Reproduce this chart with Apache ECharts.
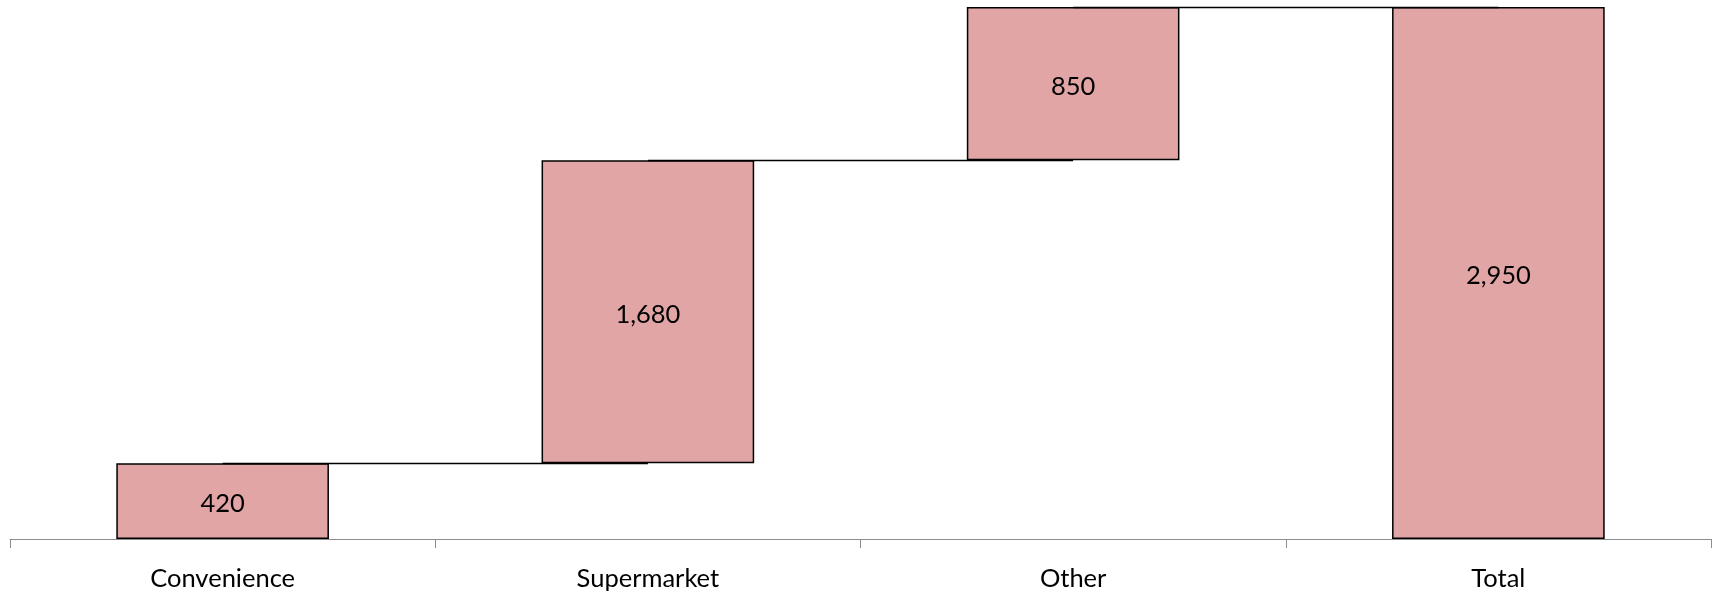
<!DOCTYPE html>
<html>
<head>
<meta charset="utf-8">
<script src="https://cdn.jsdelivr.net/npm/echarts@6/dist/echarts.min.js"></script>
<style>html,body{margin:0;padding:0;background:#fff}#c{width:1718px;height:592px}</style>
</head>
<body>
<div id="c"></div>
<script>
const categories = ['Convenience', 'Supermarket', 'Other', 'Total'];
const values = [420, 1680, 850, 2950];
const isTotal = [false, false, false, true];

// derived: invisible bases and cumulative levels for connectors
const bases = [];
const levels = [];
let run = 0;
values.forEach((v, i) => {
  if (isTotal[i]) { bases.push(0); run = v; }
  else { bases.push(run); run += v; }
  levels.push(run);
});
const connectors = [];
for (let i = 0; i < categories.length - 1; i++) connectors.push([i, levels[i]]);

const font = 'Lato';
const chart = echarts.init(document.getElementById('c'));
chart.setOption({
  animation: false,
  grid: { left: 10, right: 7, top: 7, bottom: 52 },
  xAxis: {
    type: 'category',
    data: categories,
    axisLine: { lineStyle: { color: '#8c8c8c', width: 1 } },
    axisTick: { show: true, length: 9, lineStyle: { color: '#8c8c8c' } },
    axisLabel: { color: '#000', fontFamily: font, fontSize: 25.5, margin: 27 }
  },
  yAxis: { type: 'value', min: 0, max: 2950, show: false, splitLine: { show: false } },
  series: [
    {
      type: 'bar', stack: 'w', data: bases, barWidth: '50%',
      itemStyle: { color: 'transparent' }, silent: true
    },
    {
      type: 'bar', stack: 'w', data: values, barWidth: '50%',
      itemStyle: { color: '#E0A5A4', borderColor: '#000', borderWidth: 1.5 },
      label: {
        show: true, position: 'inside', color: '#000', fontFamily: font, fontSize: 25.5,
        offset: [0, 3],
        formatter: p => p.value.toLocaleString('en-US')
      },
      z: 2
    },
    {
      type: 'custom', data: connectors, z: 3,
      renderItem: function (params, api) {
        const i = api.value(0), lv = api.value(1);
        const p1 = api.coord([i, lv]);
        const p2 = api.coord([i + 1, lv]);
        return {
          type: 'line',
          shape: { x1: p1[0], y1: Math.round(p1[1]) + 0.5, x2: p2[0], y2: Math.round(p2[1]) + 0.5 },
          style: { stroke: '#000', lineWidth: 1.3 }
        };
      }
    }
  ]
});
</script>
</body>
</html>
